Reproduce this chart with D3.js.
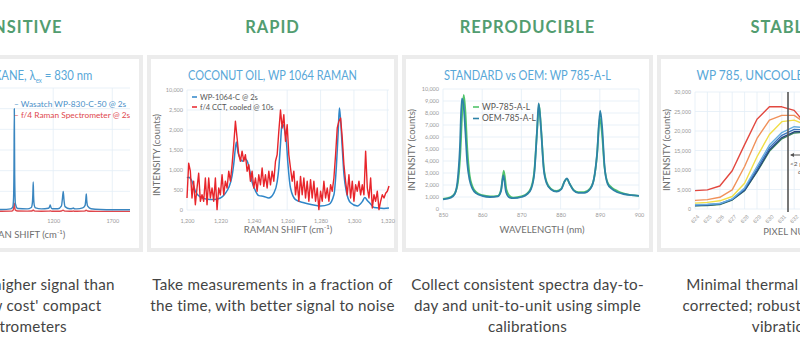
<!DOCTYPE html>
<html><head><meta charset="utf-8">
<script src="https://cdn.jsdelivr.net/npm/d3@7"></script>
<style>
html,body{margin:0;padding:0;background:#fff;overflow:hidden;}
svg{display:block;font-family:Lato,"Noto Sans",sans-serif;}
</style></head><body>
<svg id="c" width="800" height="346"></svg>
<script>
// ---------- text content ----------
const headings = ["SENSITIVE", "RAPID", "REPRODUCIBLE", "STABLE"];
const captions = [
  ["Up to 10x higher signal than", "other 'low cost' compact", "spectrometers"],
  ["Take measurements in a fraction of", "the time, with better signal to noise"],
  ["Collect consistent spectra day-to-", "day and unit-to-unit using simple", "calibrations"],
  ["Minimal thermal drift, easily", "corrected; robust to shock or", "vibration"]
];
const chartTitles = ["CYCLOHEXANE, λ|ex| = 830 nm", "COCONUT OIL, WP 1064 RAMAN", "STANDARD vs OEM: WP 785-A-L", "WP 785, UNCOOLED, 10–40 °C"];

// ---------- panel 1: cyclohexane ----------
const p1Shift = [5, 200, 380, 420, 600, 760, 840, 858, 864, 868, 871, 874, 880, 900, 980, 1015, 1024, 1028, 1031, 1034, 1040, 1050, 1100, 1160, 1170, 1175, 1180, 1190, 1240, 1270, 1279, 1285, 1291, 1300, 1340, 1362, 1370, 1378, 1400, 1450, 1470, 1476, 1480, 1484, 1492, 1520, 1600, 1700, 1850];
const p1Wasatch = [1000, 1000, 1100, 1050, 1100, 1200, 1500, 2500, 6000, 20000, 50000, 18000, 4000, 1700, 1500, 2200, 4500, 9000, 14500, 8000, 3200, 2000, 1500, 1800, 2600, 3400, 2400, 1600, 1600, 3000, 7000, 10000, 6000, 2600, 1600, 1700, 2000, 1600, 1500, 2000, 3200, 6000, 8700, 5500, 2800, 1600, 1200, 1100, 1100];
const p1Compact = [300, 300, 320, 310, 320, 330, 400, 700, 1500, 3200, 4300, 2600, 900, 450, 400, 450, 650, 850, 1000, 800, 550, 420, 380, 400, 450, 550, 440, 380, 380, 500, 750, 900, 650, 420, 370, 380, 450, 380, 360, 420, 550, 750, 900, 700, 480, 360, 320, 300, 300];
const p1Series = ["Wasatch WP-830-C-50 @ 2s", "f/4 Raman Spectrometer @ 2s"];
const p1XTicks = [200, 700, 1200, 1700];

// ---------- panel 2: coconut oil ----------
const p2ShiftBlue = [1200, 1201, 1203, 1205, 1208, 1212, 1216, 1220, 1223, 1225, 1227, 1228, 1229, 1229.6, 1230.5, 1231.5, 1233, 1234.5, 1236, 1237.5, 1239, 1241, 1243, 1246, 1249, 1252, 1254, 1255, 1256, 1256.8, 1257.6, 1258.5, 1259.5, 1260.5, 1262, 1265, 1270, 1275, 1280, 1285, 1288, 1289.5, 1290.5, 1291.3, 1292, 1293, 1294, 1295.5, 1298, 1302, 1305, 1306.5, 1308, 1310, 1312, 1318, 1321];
const p2Wasatch = [800, 820, 720, 470, 320, 270, 260, 300, 420, 560, 850, 1150, 1550, 1700, 1450, 1330, 1220, 1280, 1230, 1000, 700, 480, 360, 340, 300, 420, 700, 1050, 1650, 2100, 2130, 2000, 1720, 1130, 550, 260, 180, 130, 100, 140, 380, 1100, 1900, 2550, 2250, 1550, 900, 450, 180, 100, 210, 310, 240, 150, 60, 40, 50];
const p2ShiftRed = [1200, 1201, 1202, 1203, 1204, 1205, 1206, 1207, 1208, 1209, 1210, 1211, 1212, 1213, 1214, 1215, 1216, 1217, 1218, 1219, 1220, 1221, 1222, 1223, 1224, 1225, 1226, 1227, 1228, 1229, 1230, 1231, 1232, 1233, 1234, 1235, 1236, 1237, 1238, 1239, 1240, 1241, 1242, 1243, 1244, 1245, 1246, 1247, 1248, 1249, 1250, 1251, 1252, 1253, 1254, 1255, 1256, 1257, 1258, 1259, 1260, 1261, 1262, 1263, 1264, 1265, 1266, 1267, 1268, 1269, 1270, 1271, 1272, 1273, 1274, 1275, 1276, 1277, 1278, 1279, 1280, 1281, 1282, 1283, 1284, 1285, 1286, 1287, 1288, 1289, 1290, 1291, 1292, 1293, 1294, 1295, 1296, 1297, 1298, 1299, 1300, 1301, 1302, 1303, 1304, 1305, 1306, 1307, 1308, 1309, 1310, 1311, 1312, 1313, 1314, 1315, 1316, 1317, 1318, 1319, 1320, 1321];
const p2Cct = [300, 1170, 970, 300, 720, 130, 550, 920, 220, 380, 220, 800, 130, 800, 300, 550, 220, 800, 10, 550, 380, 880, 380, 720, 550, 970, 720, 1130, 1630, 2220, 1800, 1380, 1220, 1470, 1220, 1380, 970, 1130, 720, 970, 550, 800, 470, 880, 630, 1050, 590, 880, 550, 970, 630, 970, 720, 1220, 1380, 1970, 2500, 2050, 2380, 1720, 2130, 1380, 1050, 720, 970, 380, 720, 220, 840, 380, 800, 300, 720, 220, 760, 300, 720, 220, 550, 10, 470, 220, 720, 300, 550, 220, 630, 470, 800, 1380, 2050, 2220, 2300, 1800, 1130, 720, 380, 880, 300, 720, 220, 630, 470, 720, 380, 630, 380, 1470, 550, 300, 800, 50, 380, 220, 470, 10, 220, 380, 300, 420, 470, 600];
const p2Series = ["WP-1064-C @ 2s", "f/4 CCT, cooled @ 10s"];
const p2XTicks = [1200, 1220, 1240, 1260, 1280, 1300, 1320];
const p2XLabels = ["1,200", "1,220", "1,240", "1,260", "1,280", "1,300", "1,320"];
const p2YTicks = [0, 500, 1000, 1500, 2000, 2500, 3000];
const p2YLabels = ["0", "500", "1,000", "1,500", "2,000", "2,500", "10,000"];

// ---------- panel 3: standard vs OEM ----------
const p3WlStd = [850, 852, 853, 853.8, 854.4, 854.9, 855.3, 855.7, 856.2, 856.8, 857.5, 858.5, 860, 862, 864, 864.8, 865.5, 866.2, 867, 868, 870, 871.5, 872.5, 873.3, 874, 874.5, 875, 875.7, 876.5, 877.5, 879, 880.2, 881, 881.6, 882.3, 883.3, 884.5, 886, 887.5, 888.5, 889.3, 890, 890.5, 891.2, 892, 893, 894.5, 896, 898, 900];
const p3Standard = [850, 1000, 1300, 2200, 4500, 8000, 9500, 8200, 5000, 2800, 1900, 1400, 1150, 1050, 1100, 1600, 3200, 1600, 1100, 950, 1050, 1300, 1800, 3200, 6500, 8700, 6800, 3500, 2200, 1700, 1500, 1700, 2300, 2500, 2100, 1600, 1400, 1400, 1700, 2500, 4500, 7600, 6500, 3500, 2200, 1800, 1500, 1300, 1150, 1100];
const p3WlOem = [850, 852, 853, 853.7, 854.3, 854.8, 855.2, 855.7, 856.2, 856.8, 857.5, 858.5, 860, 862, 864, 864.8, 865.4, 866.1, 867, 868, 870, 871.5, 872.5, 873.3, 874, 874.4, 875, 875.7, 876.5, 877.5, 879, 880.2, 881, 881.6, 882.3, 883.3, 884.5, 886, 887.5, 888.5, 889.3, 890.1, 890.6, 891.2, 892, 893, 894.5, 896, 898, 900];
const p3Oem = [800, 950, 1250, 2300, 5000, 9200, 8800, 6500, 3800, 2400, 1700, 1300, 1100, 1000, 1050, 1500, 2800, 1400, 950, 900, 1000, 1250, 1700, 3000, 6600, 8800, 6700, 3300, 2100, 1650, 1450, 1650, 2300, 2550, 2100, 1550, 1350, 1350, 1650, 2500, 4600, 8200, 6800, 3600, 2100, 1700, 1400, 1250, 1150, 1100];
const p3Series = ["WP-785-A-L", "OEM-785-A-L"];
const p3XTicks = [850, 860, 870, 880, 890, 900];
const p3YTicks = [0, 1000, 2000, 3000, 4000, 5000, 6000, 7000, 8000, 9000, 10000];

// ---------- panel 4: thermal drift ----------
const p4Pixels = ["624", "625", "626", "627", "628", "629", "630", "631", "632", "633", "634", "635", "636", "637"];
const p4Red    = [4700, 4900, 5900, 9800, 16500, 23000, 26200, 26200, 25300, 21500, 15500, 10000, 6500, 5000];
const p4Orange = [2200, 2400, 3000, 4900, 10900, 18100, 22800, 24000, 24000, 21800, 16500, 10500, 6000, 3500];
const p4Yellow = [1500, 1700, 2100, 3200, 6600, 13400, 19100, 22400, 22800, 21500, 17000, 11000, 6000, 3000];
const p4LtBlue = [1100, 1200, 1400, 2600, 5400, 10900, 16400, 19600, 21100, 20800, 17500, 12000, 6500, 2800];
const p4Blue   = [1000, 1100, 1350, 2500, 5100, 10300, 15700, 18900, 20400, 20300, 17300, 12200, 6800, 2700];
const p4Navy   = [900, 1000, 1250, 2400, 4800, 9700, 15100, 18300, 19800, 19900, 17200, 12300, 7000, 2600];
const p4Green  = [800, 900, 1150, 2300, 4700, 9500, 14800, 18000, 19500, 19700, 17100, 12400, 7100, 2500];
const p4YTicks = [0, 5000, 10000, 15000, 20000, 25000, 30000];
const p4Note = ["<2 pixel", "drift"];

// ---------- layout ----------
const svg = d3.select("#c");
const panelW = 251, panelTop = 55, panelH = 197, step = 255, firstLeft = -108;
const titleWidths = [150, 169, 167, 172];
const green = "#529d70", titleBlue = "#58a7d8", gridCol = "#e3edf6", tickCol = "#9a9a9a", axisTitleCol = "#6f6f6f";
const fmt = d3.format(",");

headings.forEach((h, i) => {
  const L = firstLeft + i * step;
  const cx = L + panelW / 2;
  svg.append("text").attr("x", cx).attr("y", 33).attr("text-anchor", "middle")
    .attr("font-family", "Lato, 'Open Sans', sans-serif").attr("font-weight", 700)
    .attr("font-size", 16.5).attr("letter-spacing", 1).attr("fill", green).text(h);
  svg.append("rect").attr("x", L).attr("y", panelTop).attr("width", panelW).attr("height", panelH).attr("fill", "#ececec");
  svg.append("rect").attr("x", L + 4).attr("y", panelTop + 4).attr("width", panelW - 8).attr("height", panelH - 8).attr("fill", "#fff");
  captions[i].forEach((line, j) => {
    svg.append("text").attr("x", cx).attr("y", 290 + j * 21).attr("text-anchor", "middle")
      .attr("font-size", 15.2).attr("fill", "#444").attr("letter-spacing", 0.25).text(line);
  });
});

function chartTitle(i) {
  const L = firstLeft + i * step;
  const parts = chartTitles[i].split("|");
  const t = svg.append("text").attr("y", 80).attr("font-size", 13).attr("font-weight", 400).attr("fill", titleBlue)
    .attr("x", L + panelW / 2).attr("text-anchor", "middle");
  if (parts.length === 1) {
    t.attr("textLength", titleWidths[i]).attr("lengthAdjust", "spacingAndGlyphs").text(parts[0]);
  } else {
    t.append("tspan").text(parts[0]);
    t.append("tspan").attr("font-size", 7).attr("dy", 3).text(parts[1]);
    t.append("tspan").attr("dy", -3).text(parts[2]);
    const w = t.node().getComputedTextLength();
    t.attr("transform", `translate(${L + panelW / 2},0) scale(${titleWidths[i] / w},1) translate(${-(L + panelW / 2)},0)`);
  }
}

function grid(g, x, y, xt, yt) {
  g.append("g").selectAll("line").data(xt).join("line")
    .attr("x1", d => x(d)).attr("x2", d => x(d)).attr("y1", y.range()[0]).attr("y2", y.range()[1])
    .attr("stroke", gridCol).attr("stroke-width", 0.8);
  g.append("g").selectAll("line").data(yt).join("line")
    .attr("y1", d => y(d)).attr("y2", d => y(d)).attr("x1", x.range()[0]).attr("x2", x.range()[1])
    .attr("stroke", gridCol).attr("stroke-width", 0.8);
}

function axes(g, x, y, xt, xl, yt, yl, xLabY, fs) {
  const xa = d3.axisBottom(x).tickValues(xt).tickFormat((d, i) => xl[i]).tickSize(0).tickPadding(0);
  const ax = g.append("g").attr("transform", `translate(0,${xLabY})`).call(xa);
  ax.select(".domain").remove();
  ax.selectAll("text").attr("fill", tickCol).attr("font-size", fs).attr("dy", "0.35em").attr("font-family", "Lato, sans-serif");
  const ya = d3.axisLeft(y).tickValues(yt).tickFormat((d, i) => yl[i]).tickSize(0).tickPadding(4);
  const ay = g.append("g").attr("transform", `translate(${x.range()[0]},0)`).call(ya);
  ay.select(".domain").remove();
  ay.selectAll("text").attr("fill", tickCol).attr("font-size", fs).attr("font-family", "Lato, sans-serif");
}

function axisTitles(xStr, xc, xy, yStr, yx, yc) {
  const t = svg.append("text").attr("x", xc).attr("y", xy).attr("text-anchor", "middle")
    .attr("font-size", 9.5).attr("fill", axisTitleCol);
  if (xStr.includes("cm")) {
    t.append("tspan").text("RAMAN SHIFT (cm");
    t.append("tspan").attr("font-size", 6).attr("dy", -4).text("-1");
    t.append("tspan").attr("dy", 4).text(")");
  } else t.text(xStr);
  svg.append("text").attr("transform", `translate(${yx},${yc}) rotate(-90)`).attr("text-anchor", "middle")
    .attr("font-size", 9.5).attr("fill", axisTitleCol).text(yStr);
}

function drawLine(g, xs, ys, x, y, color, w, curve) {
  const pts = xs.map((d, i) => [d, ys[i]]);
  g.append("path").datum(pts).attr("fill", "none").attr("stroke", color).attr("stroke-width", w)
    .attr("stroke-linejoin", "round")
    .attr("d", d3.line().x(d => x(d[0])).y(d => y(d[1])).curve(curve));
}

// ---------- Panel 1 ----------
{
  const L = firstLeft;
  chartTitle(0);
  const g = svg.append("g");
  const x = d3.scaleLinear().domain([5, 1850]).range([-88, 130]);
  const y = d3.scaleLinear().domain([0, 60000]).range([212, 88]);
  grid(g, x, y, p1XTicks, [10000, 20000, 30000, 40000, 50000, 60000]);
  axes(g, x, y, p1XTicks, p1XTicks.map(String), [0, 20000, 40000, 60000], ["0", "20,000", "40,000", "60,000"], 221, 5.5);
  drawLine(g, p1Shift, p1Compact, x, y, "#e0474c", 1.4, d3.curveMonotoneX);
  drawLine(g, p1Shift, p1Wasatch, x, y, "#3a86c0", 1.4, d3.curveMonotoneX);
  const cols = ["#4a90c8", "#e0474c"];
  p1Series.forEach((s, i) => {
    svg.append("text").attr("x", 14).attr("y", 107 + i * 11).attr("font-size", 8.3).attr("fill", cols[i]).text("– " + s);
  });
  axisTitles("RAMAN SHIFT (cm-1)", 21, 238, "INTENSITY (counts)", L + 13, 150);
}

// ---------- Panel 2 ----------
{
  chartTitle(1);
  const g = svg.append("g");
  const x = d3.scaleLinear().domain([1200, 1321]).range([187, 389]);
  const y = d3.scaleLinear().domain([0, 3000]).range([210, 90]);
  grid(g, x, y, p2XTicks, p2YTicks);
  axes(g, x, y, p2XTicks, p2XLabels, p2YTicks, p2YLabels, 221, 5.5);
  drawLine(g, p2ShiftBlue, p2Wasatch, x, y, "#2f86c8", 1.5, d3.curveMonotoneX);
  drawLine(g, p2ShiftRed, p2Cct, x, y, "#e8252b", 1.4, d3.curveLinear);
  const cols = ["#2f86c8", "#e8252b"];
  p2Series.forEach((s, i) => {
    const yy = 97 + i * 10;
    svg.append("line").attr("x1", 192).attr("x2", 197).attr("y1", yy).attr("y2", yy).attr("stroke", cols[i]).attr("stroke-width", 1.5);
    svg.append("text").attr("x", 200).attr("y", yy).attr("dy", "0.35em").attr("font-size", 7.5).attr("fill", "#555").text(s);
  });
  axisTitles("RAMAN SHIFT (cm-1)", 288, 233, "INTENSITY (counts)", 160, 155);
}

// ---------- Panel 3 ----------
{
  chartTitle(2);
  const g = svg.append("g");
  const x = d3.scaleLinear().domain([850, 900]).range([443, 639]);
  const y = d3.scaleLinear().domain([0, 10000]).range([209, 89]);
  grid(g, x, y, p3XTicks, p3YTicks);
  axes(g, x, y, p3XTicks, p3XTicks.map(String), p3YTicks, p3YTicks.map(fmt), 215, 5.5);
  drawLine(g, p3WlStd, p3Standard, x, y, "#52c46b", 1.8, d3.curveMonotoneX);
  drawLine(g, p3WlOem, p3Oem, x, y, "#2d82a8", 1.8, d3.curveMonotoneX);
  const cols = ["#52c46b", "#2d82a8"];
  p3Series.forEach((s, i) => {
    const yy = 107 + i * 11.5;
    svg.append("line").attr("x1", 473).attr("x2", 479).attr("y1", yy).attr("y2", yy).attr("stroke", cols[i]).attr("stroke-width", 1.6);
    svg.append("text").attr("x", 482).attr("y", yy).attr("dy", "0.35em").attr("font-size", 8.5).attr("fill", "#555").text(s);
  });
  axisTitles("WAVELENGTH (nm)", 542, 233, "INTENSITY (counts)", 415, 150);
}

// ---------- Panel 4 ----------
{
  chartTitle(3);
  const g = svg.append("g");
  const x = d3.scalePoint().domain(p4Pixels).range([695, 695 + 12.4 * (p4Pixels.length - 1)]);
  const y = d3.scaleLinear().domain([0, 30000]).range([209, 92]);
  grid(g, x, y, p4Pixels, p4YTicks);
  const ay = g.append("g").attr("transform", "translate(695,0)")
    .call(d3.axisLeft(y).tickValues(p4YTicks).tickFormat(fmt).tickSize(0).tickPadding(4));
  ay.select(".domain").remove();
  ay.selectAll("text").attr("fill", tickCol).attr("font-size", 5.5);
  const ax = g.append("g").attr("transform", "translate(0,213)")
    .call(d3.axisBottom(x).tickSize(0).tickPadding(0));
  ax.select(".domain").remove();
  ax.selectAll("text").attr("fill", tickCol).attr("font-size", 5.5)
    .attr("text-anchor", "end").attr("dy", "0.3em").attr("transform", "translate(3,3) rotate(-45)");
  const series = [[p4Green, "#3f8a5c"], [p4Navy, "#27467f"], [p4Blue, "#3a75bd"], [p4LtBlue, "#68aee0"], [p4Yellow, "#f1de48"], [p4Orange, "#f0915a"], [p4Red, "#e2483f"]];
  series.forEach(([vals, c]) => drawLine(g, p4Pixels, vals, x, y, c, 1.4, d3.curveLinear));
  const vx = (x(p4Pixels[7]) + x(p4Pixels[8])) / 2;
  svg.append("line").attr("x1", vx).attr("x2", vx).attr("y1", 92).attr("y2", 212).attr("stroke", "#555").attr("stroke-width", 1.6);
  svg.append("line").attr("x1", vx + 3).attr("x2", vx + 30).attr("y1", 155).attr("y2", 155).attr("stroke", "#555").attr("stroke-width", 1);
  svg.append("path").attr("d", `M${vx + 2},155 l4,-2 l0,4 z`).attr("fill", "#555");
  p4Note.forEach((s, i) => svg.append("text").attr("x", vx + 2 + i * 8).attr("y", 166 + i * 8).attr("font-size", 6.5).attr("fill", "#555").text(s));
  axisTitles("PIXEL NUMBER", 797, 235, "INTENSITY (counts)", 670, 150);
}
</script>
</body></html>
